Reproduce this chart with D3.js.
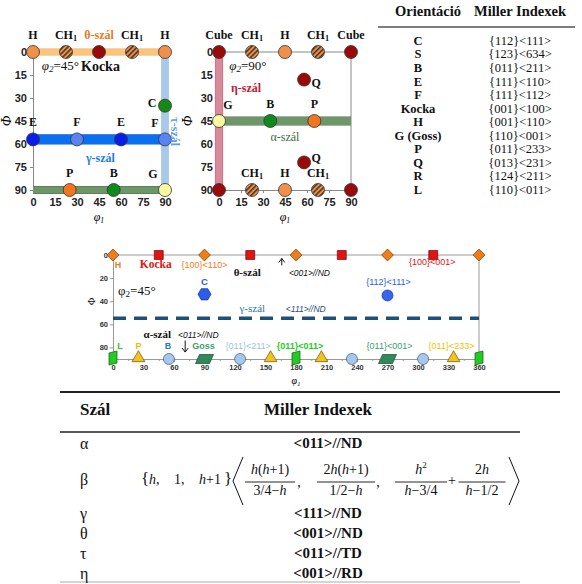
<!DOCTYPE html>
<html><head><meta charset="utf-8">
<script src="https://cdn.jsdelivr.net/npm/d3@7"></script>
<style>body{margin:0;background:#fff}svg{display:block}</style>
</head><body><svg id="c" width="582" height="584"></svg>
<script>
// ---------------- DATA ----------------
const axisTicks90 = [0,15,30,45,60,75,90];

// phi2 = 45 section (top-left)
const s45Names = ["H","CH1","Kocka","CH1","H","E","F","E","F","C","P","B","G"];
const s45Phi1  = [0,22.5,45,67.5,90, 0,30,60,90, 90, 25,55,90];
const s45Phi   = [0,0,0,0,0, 57,57,57,57, 35, 90,90,90];

// phi2 = 90 section (top-middle)
const s90Names = ["Cube","CH1","H","CH1","Cube","G","B","P","Q","Q","Cube","CH1","H","CH1","Cube"];
const s90Phi1  = [0,22.5,45,67.5,90, 0,35,65, 58,58, 0,22.5,45,67.5,90];
const s90Phi   = [0,0,0,0,0, 45,45,45, 18,72, 90,90,90,90,90];

// orientation table
const orientNames  = ["C","S","B","E","F","Kocka","H","G (Goss)","P","Q","R","L"];
const orientMiller = ["{112}<111>","{123}<634>","{011}<211>","{111}<110>","{111}<112>","{001}<100>",
                      "{001}<110>","{110}<001>","{011}<233>","{013}<231>","{124}<211>","{110}<011>"];

// phi2 = 45 full section (middle chart)
const midXTicks = [0,30,60,90,120,150,180,210,240,270,300,330,360];
const midYTicks = [0,20,40,60,80];
const thetaH    = [0,90,180,270,360];   // H / {100}<110> diamonds at Phi=0
const thetaCube = [45,135,225,315];     // Kocka squares at Phi=0
const cPhi1 = [90], cPhi = [34];        // C hexagon
const c2Phi1 = [270], c2Phi = [35];     // {112}<111>
const gammaPhi = 54.7;
const alphaL    = [0,180,360];
const alphaP    = [25,155,205,335];
const alphaB    = [55,125,235,305];
const alphaGoss = [90,270];

// fibre table
const fiberNames  = ["α","β","γ","θ","τ","η"];
const fiberMiller = ["<011>//ND", null, "<111>//ND", "<001>//ND", "<011>//TD", "<001>//RD"];

// ---------------- DRAWING ----------------
const SERIF = "'Liberation Serif','Times New Roman',serif";
const SANS  = "'Liberation Sans',Arial,sans-serif";
const svg = d3.select("#c");
const defs = svg.append("defs");
const pat = defs.append("pattern").attr("id","hatch").attr("patternUnits","userSpaceOnUse")
  .attr("width",3.5).attr("height",3.5).attr("patternTransform","rotate(45)");
pat.append("rect").attr("width",3.5).attr("height",3.5).attr("fill","#d9955a");
pat.append("rect").attr("width",1.5).attr("height",3.5).attr("fill","#5b2c12");

const ptFill = {H:"#f0904a",CH1:"url(#hatch)",Kocka:"#9b0a0a",Cube:"#9b0a0a",E:"#0a1ee8",F:"#5b82f2",
  C:"#138a13",P:"#f2761f",B:"#0e8a1e",G:"#fbf8a0",Q:"#9b0a0a"};

function topAxes(g, x, y){
  const ax = g.append("g").attr("transform",`translate(0,${y(90)})`)
    .call(d3.axisBottom(x).tickValues(axisTicks90).tickSize(3).tickPadding(5));
  const ay = g.append("g").attr("transform",`translate(${x(0)},0)`)
    .call(d3.axisLeft(y).tickValues(axisTicks90).tickSize(3).tickPadding(3));
  [ax,ay].forEach(a=>{
    a.selectAll("path,line").attr("stroke","#888");
    a.selectAll("text").attr("font-family",SANS).attr("font-weight","bold").attr("font-size",11).attr("fill","#222");
  });
}
function band(g, x1,y1,x2,y2,w,fill,stroke){
  g.append("line").attr("x1",x1).attr("y1",y1).attr("x2",x2).attr("y2",y2)
    .attr("stroke",stroke).attr("stroke-width",w+1.2);
  g.append("line").attr("x1",x1).attr("y1",y1).attr("x2",x2).attr("y2",y2)
    .attr("stroke",fill).attr("stroke-width",w);
}
function lbl(g,x,y,t,opt={}){
  const el = g.append("text").attr("x",x).attr("y",y)
    .attr("font-family",opt.font||SERIF).attr("font-weight",opt.weight||"bold")
    .attr("font-size",opt.size||12).attr("fill",opt.fill||"#111")
    .attr("text-anchor",opt.anchor||"middle").attr("dominant-baseline","middle");
  if(opt.style) el.attr("font-style",opt.style);
  if(t==="CH1"){ el.append("tspan").text("CH"); el.append("tspan").attr("font-size",(opt.size||12)*0.7).attr("dy",3).text("1"); }
  else el.text(t);
  return el;
}
function phiLabel(g,x,y,val,italic){
  const t = g.append("text").attr("x",x).attr("y",y).attr("font-family",SERIF).attr("font-size",13)
    .attr("dominant-baseline","middle").attr("fill","#111");
  t.append("tspan").attr("font-style",italic?"italic":"normal").text("φ");
  t.append("tspan").attr("font-size",9).attr("dy",3).attr("font-style",italic?"italic":"normal").text("2");
  t.append("tspan").attr("dy",-3).text("="+val+"°");
}
function phi1Title(g,x,y,size){
  const t=g.append("text").attr("x",x).attr("y",y).attr("font-family",SERIF).attr("font-style","italic")
    .attr("font-size",size).attr("text-anchor","middle");
  t.append("tspan").text("φ"); t.append("tspan").attr("font-size",size*0.65).attr("dy",size*0.2).text("1");
}

// ---- chart 1: phi2 = 45
{
  const g = svg.append("g");
  const x = d3.scaleLinear().domain([0,90]).range([33,165]);
  const y = d3.scaleLinear().domain([0,90]).range([52,190]);
  topAxes(g,x,y);
  band(g,x(90),y(0),x(90),y(90),6,"#a9c9ea","#7fa9d6");        // tau
  band(g,x(0),y(90),x(90),y(90),7,"#6f9669","#4b6d46");         // alpha
  band(g,x(0),y(0),x(90),y(0),6,"#fbc47d","#eaa85c");           // theta
  band(g,x(0),y(s45Phi[5]),x(90),y(s45Phi[5]),9,"#0a70f0","#0a5ad0"); // gamma
  s45Names.forEach((n,i)=>{
    g.append("circle").attr("cx",x(s45Phi1[i])).attr("cy",y(s45Phi[i])).attr("r",6.5)
      .attr("fill",ptFill[n]).attr("stroke","#333").attr("stroke-width",0.8);
  });
  s45Names.forEach((n,i)=>{
    const cx=x(s45Phi1[i]), cy=y(s45Phi[i]);
    if(n==="Kocka") return;
    if(n==="C") lbl(g,cx-13,cy-1,n);
    else if(n==="G") lbl(g,cx-12,cy-15,n);
    else if(n==="F" && s45Phi1[i]===90) lbl(g,cx-10,cy-15,n);
    else lbl(g,cx,cy-16,n);
  });
  lbl(g,x(45),y(0)-16,"θ-szál",{fill:"#e57c22"});
  phiLabel(g,x(6),y(10),"45",true);
  lbl(g,x(46),y(10),"Kocka",{size:14});
  lbl(g,x(46),y(70),"γ-szál",{fill:"#1e7fe0"});
  lbl(g,x(90)+9,y(52),"τ-szál",{fill:"#5aa0e0"}).attr("transform",`rotate(90,${x(90)+9},${y(52)})`);
  g.append("text").attr("x",8).attr("y",y(45)).attr("font-family",SERIF).attr("font-style","italic")
    .attr("font-size",14).attr("text-anchor","middle").attr("dominant-baseline","middle")
    .attr("transform",`rotate(-90,8,${y(45)})`).text("Φ");
  phi1Title(g,x(45),221,12);
}

// ---- chart 2: phi2 = 90
{
  const g = svg.append("g");
  const x = d3.scaleLinear().domain([0,90]).range([219,351]);
  const y = d3.scaleLinear().domain([0,90]).range([52,190]);
  g.append("line").attr("x1",x(0)).attr("x2",x(90)).attr("y1",y(0)).attr("y2",y(0)).attr("stroke","#888");
  g.append("line").attr("x1",x(90)).attr("x2",x(90)).attr("y1",y(0)).attr("y2",y(90)).attr("stroke","#888");
  topAxes(g,x,y);
  band(g,x(0),y(0),x(0),y(90),7,"#d98a9a","#c06878");           // eta
  band(g,x(0),y(45),x(90),y(45),8,"#6f9669","#4b6d46");         // alpha
  s90Names.forEach((n,i)=>{
    g.append("circle").attr("cx",x(s90Phi1[i])).attr("cy",y(s90Phi[i])).attr("r",6.5)
      .attr("fill",ptFill[n]).attr("stroke","#333").attr("stroke-width",0.8);
  });
  s90Names.forEach((n,i)=>{
    const cx=x(s90Phi1[i]), cy=y(s90Phi[i]);
    if(n==="Cube" && s90Phi[i]===90) return;
    if(n==="Q") lbl(g,cx+12,s90Phi[i]<45?cy+5:cy-3,n);
    else if(n==="G") lbl(g,cx+9,cy-15,n);
    else lbl(g,cx,cy-16,n);
  });
  phiLabel(g,x(7),y(10),"90",true);
  lbl(g,x(0)+27,y(24),"η-szál",{fill:"#c0203a"});
  lbl(g,x(45),y(56),"α-szál",{fill:"#3d6b3d",weight:"normal"});
  g.append("text").attr("x",x(0)-30).attr("y",y(45)).attr("font-family",SERIF).attr("font-style","italic")
    .attr("font-size",14).attr("text-anchor","middle").attr("dominant-baseline","middle")
    .attr("transform",`rotate(-90,${x(0)-30},${y(45)})`).text("Φ");
  phi1Title(g,x(45),221,12);
}

// ---- orientation table
{
  const g = svg.append("g");
  lbl(g,428,13,"Orientáció",{size:14.5});
  lbl(g,520,13,"Miller Indexek",{size:14.5});
  g.append("line").attr("x1",378).attr("x2",575).attr("y1",27).attr("y2",27).attr("stroke","#555").attr("stroke-width",1.3);
  const ry = d3.scaleLinear().domain([0,orientNames.length-1]).range([42,191]);
  orientNames.forEach((n,i)=>{
    lbl(g,418,ry(i),n,{size:12.5});
    lbl(g,520,ry(i),orientMiller[i],{size:12.5,weight:"normal"});
  });
}

// ---- middle chart
{
  const g = svg.append("g");
  const x = d3.scaleLinear().domain([0,360]).range([113,479]);
  const y = d3.scaleLinear().domain([0,90]).range([255,359]);
  g.append("line").attr("x1",x(0)).attr("x2",x(360)).attr("y1",y(0)).attr("y2",y(0)).attr("stroke","#999");
  g.append("line").attr("x1",x(360)).attr("x2",x(360)).attr("y1",y(0)).attr("y2",y(90)).attr("stroke","#999");
  const ax = g.append("g").attr("transform",`translate(0,${y(90)})`)
    .call(d3.axisBottom(x).tickValues(midXTicks).tickSize(3).tickPadding(3));
  g.append("g").attr("transform",`translate(0,${y(90)})`)
    .call(d3.axisBottom(x).tickValues(d3.range(15,360,30)).tickSize(2).tickFormat(""))
    .selectAll("path,line").attr("stroke","#999");
  const ay = g.append("g").attr("transform",`translate(${x(0)},0)`)
    .call(d3.axisLeft(y).tickValues(midYTicks).tickSize(3).tickPadding(2));
  [ax,ay].forEach(a=>{
    a.selectAll("path,line").attr("stroke","#999");
    a.selectAll("text").attr("font-family",SANS).attr("font-weight","bold").attr("font-size",7.5).attr("fill","#333");
  });
  g.append("line").attr("x1",x(0)).attr("x2",x(360)).attr("y1",y(gammaPhi)).attr("y2",y(gammaPhi))
    .attr("stroke","#1f4e79").attr("stroke-width",3.5).attr("stroke-dasharray","13,8");
  const sym = (type,size)=>d3.symbol().type(type).size(size)();
  thetaH.forEach(v=>g.append("path").attr("d",sym(d3.symbolSquare,70))
    .attr("transform",`translate(${x(v)},${y(0)}) rotate(45)`).attr("fill","#f07d1a").attr("stroke","#7a3a08").attr("stroke-width",0.7));
  thetaCube.forEach(v=>g.append("path").attr("d",sym(d3.symbolSquare,80))
    .attr("transform",`translate(${x(v)},${y(0)})`).attr("fill","#e31313").attr("stroke","#6a0808").attr("stroke-width",0.7));
  const hex = d3.range(6).map(k=>[6.5*Math.cos(Math.PI/3*k),6.5*Math.sin(Math.PI/3*k)]);
  cPhi1.forEach((v,i)=>g.append("path").attr("d","M"+hex.join("L")+"Z")
    .attr("transform",`translate(${x(v)},${y(cPhi[i])})`).attr("fill","#2a5cf0").attr("stroke","#1a3080").attr("stroke-width",0.7));
  c2Phi1.forEach((v,i)=>g.append("circle").attr("cx",x(v)).attr("cy",y(c2Phi[i])).attr("r",5.5)
    .attr("fill","#3566f0").attr("stroke","#1a3080").attr("stroke-width",0.7));
  alphaP.forEach(v=>g.append("path").attr("d",sym(d3.symbolTriangle,70))
    .attr("transform",`translate(${x(v)},${y(90)-1})`).attr("fill","#f2c21f").attr("stroke","#6a5208").attr("stroke-width",0.7));
  alphaB.forEach(v=>g.append("circle").attr("cx",x(v)).attr("cy",y(90)).attr("r",5.5)
    .attr("fill","#a7c8ec").attr("stroke","#3a5a80").attr("stroke-width",0.7));
  alphaGoss.forEach(v=>g.append("path").attr("d","M-5,-4.5L9,-4.5L5,4.5L-9,4.5Z")
    .attr("transform",`translate(${x(v)},${y(90)})`).attr("fill","#2f8a5a").attr("stroke","#144a2a").attr("stroke-width",0.7));
  alphaL.forEach(v=>g.append("path").attr("d","M-4,-5L4,-7L4,5L-4,7Z")
    .attr("transform",`translate(${x(v)},${y(90)-1})`).attr("fill","#22cc22").attr("stroke","#0b5a0b").attr("stroke-width",0.7));
  const L = (v,p,t,o)=>lbl(g,x(v),y(p),t,Object.assign({font:SANS,size:9},o));
  L(5,9,"H",{fill:"#f07d1a"});
  L(42,9,"Kocka",{fill:"#e31313",font:SERIF,size:11.5});
  L(90,9,"{100}<110>",{fill:"#f07d1a",weight:"normal"});
  L(314,7,"{100}<001>",{fill:"#e31313",weight:"normal"});
  L(132,16,"θ-szál",{font:SERIF,size:11});
  L(173,16,"<001>//ND",{anchor:"start",style:"italic",weight:"normal",size:8.5});
  L(90,24,"C",{fill:"#2a5cf0",size:9.5});
  L(271,24,"{112}<111>",{fill:"#2a5cf0",weight:"normal"});
  L(137,47,"γ-szál",{font:SERIF,size:11,fill:"#2e75b6",weight:"normal"});
  L(170,47,"<111>//ND",{anchor:"start",style:"italic",weight:"normal",size:8.5,fill:"#1f4e79"});
  L(7,79,"L",{fill:"#22cc22"});
  L(25,79,"P",{fill:"#f0b800"});
  L(54,79,"B",{fill:"#2e75b6"});
  L(89,79,"Goss",{fill:"#3aa070"});
  L(133,79,"{011}<211>",{fill:"#9dc3e6",weight:"normal"});
  L(184,79,"{011}<011>",{fill:"#22cc22"});
  L(272,79,"{011}<001>",{fill:"#3aa070",weight:"normal"});
  L(333,79,"{011}<233>",{fill:"#f0c000",weight:"normal"});
  L(30,70,"α-szál",{font:SERIF,size:11,anchor:"start"});
  L(64,70,"<011>//ND",{anchor:"start",style:"italic",weight:"normal",size:8.5});
  phiLabel(g,x(5),y(32),"45",false);
  const arrow=(xx,y1,y2)=>{
    g.append("line").attr("x1",xx).attr("x2",xx).attr("y1",y1).attr("y2",y2).attr("stroke","#111").attr("stroke-width",1);
    const d = y2>y1?1:-1;
    g.append("path").attr("d",`M${xx-3},${y2-d*4}L${xx},${y2}L${xx+3},${y2-d*4}`).attr("fill","none").attr("stroke","#111");
  };
  arrow(x(166),y(9),y(3));
  arrow(x(71),y(74),y(84));
  g.append("text").attr("x",93).attr("y",y(40)).attr("font-family",SERIF).attr("font-size",10)
    .attr("text-anchor","middle").attr("dominant-baseline","middle")
    .attr("transform",`rotate(-90,93,${y(40)})`).text("Φ");
  phi1Title(g,x(180),384,10);
}

// ---- fibre table
{
  const g = svg.append("g");
  g.append("line").attr("x1",60).attr("x2",560).attr("y1",392).attr("y2",392).attr("stroke","#222").attr("stroke-width",2);
  lbl(g,80,411,"Szál",{size:17,anchor:"start"});
  lbl(g,318,411,"Miller Indexek",{size:17});
  g.append("line").attr("x1",60).attr("x2",520).attr("y1",432).attr("y2",432).attr("stroke","#222").attr("stroke-width",1.5);
  g.append("line").attr("x1",60).attr("x2",520).attr("y1",582).attr("y2",582).attr("stroke","#aaa").attr("stroke-width",1);
  const rowY = [445,481,515,535,555,575];
  fiberNames.forEach((n,i)=>{
    lbl(g,80,rowY[i],n,{size:16,anchor:"start",weight:"normal"});
    if(fiberMiller[i]) lbl(g,328,rowY[i],fiberMiller[i],{size:15});
  });
  const yb = rowY[1];
  const math=(x,y,str,anchor,size)=>{
    const t=g.append("text").attr("x",x).attr("y",y).attr("font-family",SERIF).attr("font-size",size||14)
      .attr("text-anchor",anchor||"middle").attr("dominant-baseline","middle").attr("fill","#111");
    for(const ch of str){
      const s=t.append("tspan").text(ch);
      if(ch==="h") s.attr("font-style","italic");
      if(ch==="²") s.attr("font-size",9).attr("baseline-shift","super").text("2");
    }
  };
  math(141,yb-1,"{","start",17);
  math(149,yb,"h,","start");
  math(174,yb,"1,","start");
  math(199,yb,"h+1","start");
  math(224,yb-1,"}","start",17);
  g.append("path").attr("d",`M243,${yb-24}L233,${yb}L243,${yb+24}`).attr("fill","none").attr("stroke","#111").attr("stroke-width",1);
  const fr=[[270,50,"h(h+1)","3/4−h"],[346,58,"2h(h+1)","1/2−h"],[421,52,"h²","h−3/4"],[482,47,"2h","h−1/2"]];
  fr.forEach(([cx,w,num,den])=>{
    math(cx,yb-10,num); math(cx,yb+11,den);
    g.append("line").attr("x1",cx-w/2).attr("x2",cx+w/2).attr("y1",yb+1).attr("y2",yb+1).attr("stroke","#111").attr("stroke-width",0.9);
  });
  math(299,yb+3,","); math(378,yb+3,","); math(452,yb+1,"+");
  g.append("path").attr("d",`M509,${yb-24}L519,${yb}L509,${yb+24}`).attr("fill","none").attr("stroke","#111").attr("stroke-width",1);
}
</script></body></html>
